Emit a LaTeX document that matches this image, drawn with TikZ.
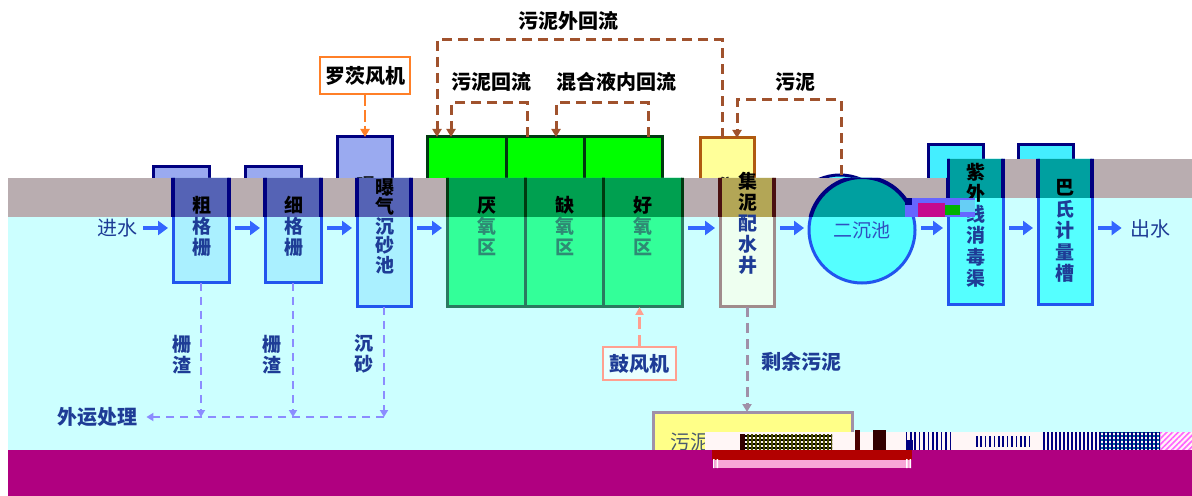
\documentclass[tikz,border=0pt]{standalone}
\usepackage{fontspec}
\setmainfont{Noto Sans CJK SC}
\usetikzlibrary{arrows.meta,fit,patterns.meta,calc}
\definecolor{bandgray}{HTML}{B9ADB0}
\definecolor{cyanbg}{HTML}{CCFFFF}
\definecolor{magbg}{HTML}{B00080}
\definecolor{flowblue}{HTML}{3366FF}
\definecolor{boxblue}{HTML}{2255EE}
\definecolor{navy}{HTML}{000080}
\definecolor{lightbox}{HTML}{AAF0FF}
\definecolor{stubfill}{HTML}{9AAAF0}
\definecolor{dkbox}{HTML}{5563B5}
\definecolor{mint}{HTML}{33FF99}
\definecolor{mintedge}{HTML}{2A7A60}
\definecolor{dkgreen}{HTML}{00A050}
\definecolor{dkgreenedge}{HTML}{003A10}
\definecolor{brightgreen}{HTML}{00FF00}
\definecolor{wellfill}{HTML}{EEFFF0}
\definecolor{welledge}{HTML}{A08C8C}
\definecolor{dkwell}{HTML}{B3A656}
\definecolor{dkwelledge}{HTML}{4A1010}
\definecolor{yellowfill}{HTML}{FFFF99}
\definecolor{brownedge}{HTML}{B05A10}
\definecolor{aqua}{HTML}{55FFFF}
\definecolor{aquastub}{HTML}{44EEFF}
\definecolor{dkaqua}{HTML}{00A0A0}
\definecolor{retbrown}{HTML}{A0522D}
\definecolor{purpled}{HTML}{8C8CFF}
\definecolor{orangeb}{HTML}{FF7F27}
\definecolor{salmonb}{HTML}{FFA090}
\definecolor{mauveb}{HTML}{A090A8}
\definecolor{sludgey}{HTML}{FFFF88}
\definecolor{txtblue}{HTML}{1E3C96}
\definecolor{txtteal}{HTML}{2E8B74}
\definecolor{sedtxt}{HTML}{3050C0}
\definecolor{grayt}{HTML}{4A5A70}
\tikzset{
 bx/.style={inner sep=0pt, outer sep=0pt, line width=1.5pt},
 stub/.style={bx, draw=navy, fill=stubfill},
 gstub/.style={bx, draw=dkgreenedge, fill=brightgreen},
 ystub/.style={bx, draw=brownedge, fill=yellowfill},
 astub/.style={bx, draw=navy, fill=aquastub},
 cstub/.style={bx, circle, draw=navy, fill=aqua, minimum size=53pt},
 lbox/.style={bx, draw=boxblue, fill=lightbox},
 tank/.style={bx, draw=mintedge, fill=mint},
 well/.style={bx, draw=welledge, fill=wellfill},
 sedi/.style={bx, circle, draw=boxblue, fill=aqua, minimum size=53pt},
 abox/.style={bx, draw=boxblue, fill=aqua},
 dkb/.style={draw=navy, fill=dkbox, line width=2pt},
 dkt/.style={draw=dkgreenedge, fill=dkgreen, line width=1.5pt},
 dkw/.style={draw=dkwelledge, fill=dkwell, line width=2pt},
 dka/.style={draw=navy, fill=dkaqua, line width=2pt},
 flow/.style={draw=flowblue, line width=2pt, -{Triangle[length=5pt,width=7pt]}, shorten <=3pt, shorten >=2.5pt},
 ret/.style={draw=retbrown, line width=1.5pt, dash pattern=on 5pt off 3pt, -{Triangle[length=4pt,width=4.5pt]}},
 pdash/.style={draw=purpled, line width=1.3pt, dash pattern=on 4pt off 3pt, -{Triangle[length=3.5pt,width=4pt]}},
 orng/.style={draw=orangeb, line width=1.3pt, dash pattern=on 6pt off 2pt, -{Triangle[length=4pt,width=4.5pt]}},
 salm/.style={draw=salmonb, line width=1.2pt, dash pattern=on 6pt off 3pt, -{Triangle[length=4pt,width=4pt]}},
 mdash/.style={draw=mauveb, line width=1.5pt, dash pattern=on 5pt off 3pt, -{Triangle[length=4pt,width=4.5pt]}},
 lbl/.style={font=\bfseries\fontsize{10pt}{12pt}\selectfont, inner sep=0pt},
 vl/.style={font=\bfseries\fontsize{9.5pt}{10.5pt}\selectfont, align=center, inner sep=0pt},
}
\begin{document}
\begin{tikzpicture}[x=0.5pt,y=-0.5pt]
\useasboundingbox (0,0) rectangle (1192,496);
\fill[white] (0,0) rectangle (1192,496);

% ---------- upper layer ----------
\begin{scope}
\clip (0,0) rectangle (947,178) (947,0) rectangle (1192,159);
\node[fit={(153,167)(209,200)}, stub] (s1) {};
\node[fit={(245,167)(301,200)}, stub] (s2) {};
\node[fit={(337,137)(392,200)}, stub] (s3) {};
\node[fit={(427,137)(506,200)}, gstub] (g1) {};
\node[fit={(506,137)(584,200)}, gstub] (g2) {};
\node[fit={(584,137)(662,200)}, gstub] (g3) {};
\node[fit={(700,138)(754,200)}, ystub] (yU) {};
\node[cstub] (cU) at (840,228) {};
\node[fit={(928,145)(983,200)}, astub] (uU) {};
\node[fit={(1018,145)(1073,200)}, astub] (pU) {};
\node[vl] (pc1) at (366,186) {曝};
\node[vl] (pc2) at (727,186) {集};
\end{scope}

\coordinate (o1) at (722,40);
\coordinate (o2) at (437,40);
\coordinate (o3) at (527,103);
\coordinate (o4) at (451,103);
\coordinate (o5) at (648,103);
\coordinate (o6) at (556,103);
\coordinate (o7) at (841,100);
\coordinate (o8) at (737,100);
\draw[ret] (yU.north -| o1) |- (o2) -- (g1.north -| o2);
\draw[ret] (g2.north -| o3) |- (o4) -- (g1.north -| o4);
\draw[ret] (g3.north -| o5) |- (o6) -- (g2.north -| o6);
\draw[ret] (cU.north -| o7) |- (o8) -- (yU.north -| o8);
\node[lbl] (tl1) at (568,21) {污泥外回流};
\node[lbl] (tl2) at (491,82) {污泥回流};
\node[lbl] (tl3) at (616,82) {混合液内回流};
\node[lbl] (tl4) at (795,82) {污泥};

\node[bx, draw=orangeb, fill=white, line width=1.3pt, minimum width=45pt, minimum height=18.5pt, font=\bfseries\fontsize{10pt}{12pt}\selectfont] (rf) at (365,75.5) {罗茨风机};
\draw[orng] (rf.south) -- (rf.south |- s3.north);

% ---------- lower layer backgrounds ----------
\fill[bandgray] (8,178) rectangle (947,217);
\fill[bandgray] (947,159) rectangle (1192,198);
\fill[cyanbg] (8,217) rectangle (947,450);
\fill[cyanbg] (947,198) rectangle (1192,450);

\begin{scope}
\clip (8,178) rectangle (947,496) (947,159) rectangle (1192,496);
\node[fit={(173,170)(229,283)}, lbox] (b1) {};
\node[fit={(265,170)(321,283)}, lbox] (b2) {};
\node[fit={(357,170)(411,307)}, lbox] (b3) {};
\node[fit={(447,170)(525,307)}, tank] (tA) {};
\node[fit={(525,170)(603,307)}, tank] (tB) {};
\node[fit={(603,170)(682,307)}, tank] (tC) {};
\node[fit={(720,170)(774,307)}, well] (w) {};
\node[sedi] (c) at (862,230) {};
\node[fit={(948,150)(1003,305)}, abox] (u) {};
\node[fit={(1038,150)(1092,305)}, abox] (p) {};
\node[fit={(653,412)(852,475)}, bx, draw=mauveb, fill=sludgey] (sl) {};
\end{scope}

% darker parts under the grey band
\begin{scope}
\clip (8,178) rectangle (947,217) (947,159) rectangle (1192,198);
\draw[dkb] (b1.north west) rectangle (b1.south east);
\draw[dkb] (b2.north west) rectangle (b2.south east);
\draw[dkb] (b3.north west) rectangle (b3.south east);
\draw[dkt] (tA.north west) rectangle (tA.south east);
\draw[dkt] (tB.north west) rectangle (tB.south east);
\draw[dkt] (tC.north west) rectangle (tC.south east);
\draw[dkw] (w.north west) rectangle (w.south east);
\draw[dka] (c.center) circle[radius=53];
\draw[dka] (u.north west) rectangle (u.south east);
\draw[dka] (p.north west) rectangle (p.south east);
\end{scope}

% ---------- labels in boxes ----------
\node[vl, text=txtblue] (L1) at (202,226) {\textcolor{black}{粗}\\格\\栅};
\node[vl, text=txtblue] (L2) at (294,226) {\textcolor{black}{细}\\格\\栅};
\node[vl, text=txtblue, font=\bfseries\fontsize{9.5pt}{9.75pt}\selectfont] (L3) at (385,226) {\textcolor{black}{曝}\\\textcolor{black}{气}\\沉\\砂\\池};
\node[vl, text=txtteal] (L4) at (487,226) {\textcolor{black}{厌}\\氧\\区};
\node[vl, text=txtteal] (L5) at (565,226) {\textcolor{black}{缺}\\氧\\区};
\node[vl, text=txtteal] (L6) at (643,226) {\textcolor{black}{好}\\氧\\区};
\node[vl, text=txtblue] (L7) at (748,223) {\textcolor{black}{集}\\\textcolor{black}{泥}\\配\\水\\井};
\node[vl, text=sedtxt, font=\fontsize{9.5pt}{10.5pt}\selectfont] (L8) at (c.center) {二沉池};
\node[vl, text=txtblue, font=\bfseries\fontsize{9.5pt}{10.6pt}\selectfont] (L9) at (976,225) {\textcolor{black}{紫}\\\textcolor{black}{外}\\线\\消\\毒\\渠};
\node[vl, text=txtblue, font=\bfseries\fontsize{9.5pt}{10.75pt}\selectfont] (L10) at (1065,231) {\textcolor{black}{巴}\\氏\\计\\量\\槽};

% ---------- main flow ----------
\node[lbl, text=txtblue, font=\fontsize{10pt}{12pt}\selectfont] (in) at (117,228) {进水};
\node[lbl, text=txtblue, font=\fontsize{10pt}{12pt}\selectfont] (out) at (1150,229) {出水};
\coordinate (Y) at (0,228);
\draw[flow] (in.east |- Y) -- (b1.west |- Y);
\draw[flow] (b1.east |- Y) -- (b2.west |- Y);
\draw[flow] (b2.east |- Y) -- (b3.west |- Y);
\draw[flow] (b3.east |- Y) -- (tA.west |- Y);
\draw[flow] (tC.east |- Y) -- (w.west |- Y);
\draw[flow] (w.east |- Y) -- (c.west |- Y);
\draw[flow] (c.east |- Y) -- (u.west |- Y);
\draw[flow] (u.east |- Y) -- (p.west |- Y);
\draw[flow, shorten >=4pt] (p.east |- Y) -- (out.west |- Y);

% ---------- screenings and grit ----------
\node[lbl, text=txtblue] (wy) at (97,417) {外运处理};
\coordinate (J) at (0,417);
\draw[pdash] (b1.south) -- (b1.south |- J);
\draw[pdash] (b2.south) -- (b2.south |- J);
\draw[pdash] (b3.south) -- (b3.south |- J);
\draw[pdash, shorten >=4.5pt] (b3.south |- wy.east) -- (wy.east);
\node[vl, text=txtblue] (z1) at (182,355) {栅\\渣};
\node[vl, text=txtblue] (z2) at (272,355) {栅\\渣};
\node[vl, text=txtblue] (z3) at (364,354) {沉\\砂};

% ---------- blower ----------
\node[bx, draw=salmonb, fill=white!55!cyanbg, line width=1.2pt, minimum width=36.5pt, minimum height=16.5pt, text=txtblue, font=\bfseries\fontsize{10pt}{12pt}\selectfont] (gf) at (639.5,363.5) {鼓风机};
\draw[salm] (gf.north) -- (gf.north |- tC.south);

% ---------- excess sludge ----------
\draw[mdash] (w.south) -- (w.south |- sl.north);
\node[lbl, text=txtblue] (sy) at (801,362) {剩余污泥};
\node[lbl, text=grayt, font=\fontsize{10pt}{12pt}\selectfont] (slt) at (690,442) {污泥};

% ---------- glitches ----------
\fill[white!85!pink] (705,432) rectangle (1192,450);
\fill[pattern={Lines[angle=0,distance=2pt,line width=0.9pt]}, pattern color=black] (745,434) rectangle (832,450);
\fill[pattern={Lines[angle=90,distance=2pt,line width=0.9pt]}, pattern color=black!70!yellow] (745,434) rectangle (832,450);
\fill[black!80!red] (740,434) rectangle (745,450);
\fill[black!80!red] (873,430) rectangle (886,450);
\fill[black!70!red] (855,430) rectangle (860,450);
\fill[pattern={Lines[angle=90,distance=2.2pt,line width=0.8pt]}, pattern color=navy] (905,432) rectangle (952,450);
\fill[navy] (907,440) rectangle (913,450);
\fill[pattern={Lines[angle=90,distance=2.2pt,line width=0.8pt]}, pattern color=navy] (973,436) rectangle (1030,446);
\fill[pattern={Lines[angle=90,distance=2pt,line width=0.8pt]}, pattern color=navy] (1042,432) rectangle (1100,450);
\fill[pattern={Lines[angle=0,distance=2pt,line width=0.8pt]}, pattern color=blue!60!green] (1100,432) rectangle (1160,450);
\fill[pattern={Lines[angle=90,distance=2pt,line width=0.8pt]}, pattern color=navy] (1100,432) rectangle (1160,450);
\fill[pattern={Lines[angle=45,distance=2pt,line width=0.8pt]}, pattern color=magenta!60] (1160,432) rectangle (1192,450);

\fill[magbg] (8,450) rectangle (1192,496);
\fill[red!70!black] (712,450) rectangle (912,460);
\fill[magenta!35] (715,460) rectangle (910,468);
\fill[white] (713,459) rectangle (714.5,468) (716.5,459) rectangle (718,468) (906,459) rectangle (907.5,468) (909.5,459) rectangle (911,468);

\fill[blue!60] (905,198) rectangle (975,217);
\fill[magenta!80!blue] (918,203) rectangle (945,217);
\fill[green!70!black] (945,205) rectangle (960,215);
\fill[cyan!60] (960,200) rectangle (975,212);
\fill[navy] (905,198) rectangle (912,205);
\end{tikzpicture}
\end{document}
